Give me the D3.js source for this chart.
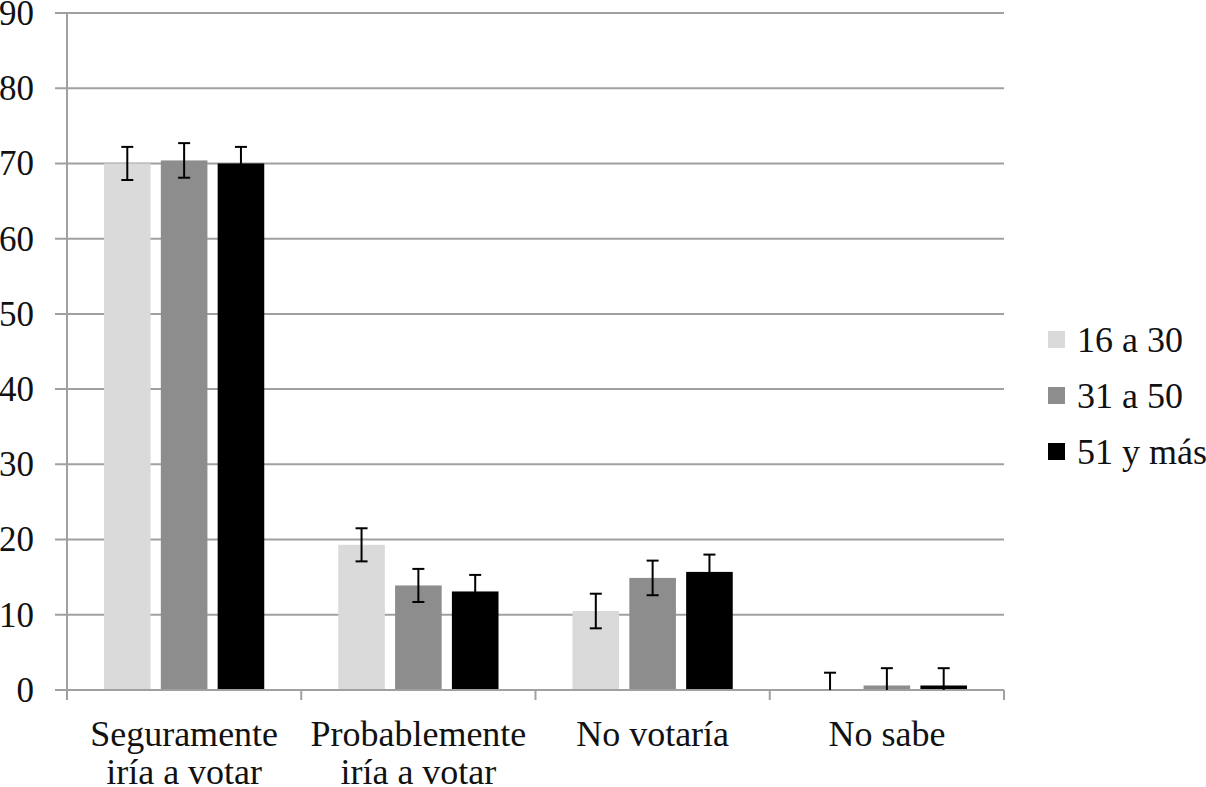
<!DOCTYPE html>
<html><head><meta charset="utf-8">
<script src="https://cdn.jsdelivr.net/npm/d3@7"></script>
<style>body{margin:0;background:#fff}svg{display:block}svg text{font-family:"Liberation Serif","Times New Roman",Times,serif !important}</style>
</head><body><svg id="c" width="1206" height="787"></svg>
<script>
const categories = [["Seguramente","iría a votar"],["Probablemente","iría a votar"],["No votaría"],["No sabe"]];
const series = ["16 a 30","31 a 50","51 y más"];
const colors = ["#dadada","#8d8d8d","#000000"];
const v1630 = [70.0, 19.3, 10.5, 0.0];
const v3150 = [70.4, 13.9, 14.9, 0.6];
const v51 = [70.0, 13.1, 15.7, 0.6];
const e1630 = [2.2, 2.2, 2.3, 2.3];
const e3150 = [2.3, 2.2, 2.3, 2.3];
const e51 = [2.2, 2.2, 2.3, 2.3];
const yTicks = [0,10,20,30,40,50,60,70,80,90];
const values = [v1630, v3150, v51];
const errs = [e1630, e3150, e51];

const svg = d3.select("#c");
const FF = '"Liberation Serif", "Times New Roman", Times, serif';
const L = 67, R = 1004, T = 13, B = 690;
const y = d3.scaleLinear().domain([0,90]).range([B,T]);
const x0 = d3.scaleBand().domain(d3.range(categories.length)).range([L,R]).paddingInner(0).paddingOuter(0);
const x1 = d3.scaleBand().domain(d3.range(series.length)).range([37, x0.bandwidth()-37]).paddingInner(0.18).paddingOuter(0);
const grid = "#a0a0a0";

// gridlines
svg.append("g").selectAll("line").data(yTicks.filter(d=>d>0)).join("line")
  .attr("x1", L-12).attr("x2", R).attr("y1", d=>y(d)).attr("y2", d=>y(d))
  .attr("stroke", grid).attr("stroke-width", 2);
// y axis
svg.append("line").attr("x1",L).attr("x2",L).attr("y1",T).attr("y2",B+10).attr("stroke",grid).attr("stroke-width",2);
svg.append("g").selectAll("text").data(yTicks).join("text")
  .attr("x", 34).attr("y", d=>y(d)).attr("dy","0.34em").attr("text-anchor","end")
  .attr("font-family",FF).style("font-size","35px").attr("fill","#111").text(d=>d);

// bars
const g = svg.append("g");
series.forEach((s, si) => {
  g.append("g").selectAll("rect").data(values[si]).join("rect")
    .attr("x", (d,i)=>x0(i)+x1(si)).attr("width", x1.bandwidth())
    .attr("y", d=>y(d)).attr("height", d=>B-y(d)).attr("fill", colors[si]);
});
// x axis
svg.append("line").attr("x1",L-12).attr("x2",R).attr("y1",B).attr("y2",B).attr("stroke",grid).attr("stroke-width",2);
svg.append("g").selectAll("line").data(d3.range(categories.length+1)).join("line")
  .attr("x1", i=> i<categories.length ? x0(i) : R).attr("x2", i=> i<categories.length ? x0(i) : R)
  .attr("y1", B).attr("y2", B+10).attr("stroke", grid).attr("stroke-width", 2);

// error bars
series.forEach((s, si) => {
  const eg = svg.append("g").attr("stroke","#000").attr("stroke-width",2);
  values[si].forEach((v,i) => {
    const cx = x0(i)+x1(si)+x1.bandwidth()/2;
    const lo = Math.max(0, v-errs[si][i]), hi = v+errs[si][i];
    eg.append("line").attr("x1",cx).attr("x2",cx).attr("y1",y(lo)).attr("y2",y(hi));
    eg.append("line").attr("x1",cx-6).attr("x2",cx+6).attr("y1",y(hi)).attr("y2",y(hi));
    if (v-errs[si][i] > 0) eg.append("line").attr("x1",cx-6).attr("x2",cx+6).attr("y1",y(lo)).attr("y2",y(lo));
  });
});

// x labels
categories.forEach((lines,i) => {
  const cx = x0(i)+x0.bandwidth()/2;
  const t = svg.append("text").attr("x", cx).attr("y", 746).attr("text-anchor","middle").attr("fill","#111")
    .attr("font-family",FF).style("font-size","36px");
  lines.forEach((ln,k)=> t.append("tspan").attr("x", cx).attr("dy", k===0?0:38).text(ln));
});

// legend
series.forEach((s,si) => {
  const cy = 340 + si*56;
  svg.append("rect").attr("x",1048).attr("y",cy-9).attr("width",17).attr("height",17).attr("fill",colors[si]);
  svg.append("text").attr("x",1077).attr("y",cy).attr("dy","0.34em").attr("fill","#111")
    .attr("font-family",FF).style("font-size","36px").text(s);
});
</script></body></html>
